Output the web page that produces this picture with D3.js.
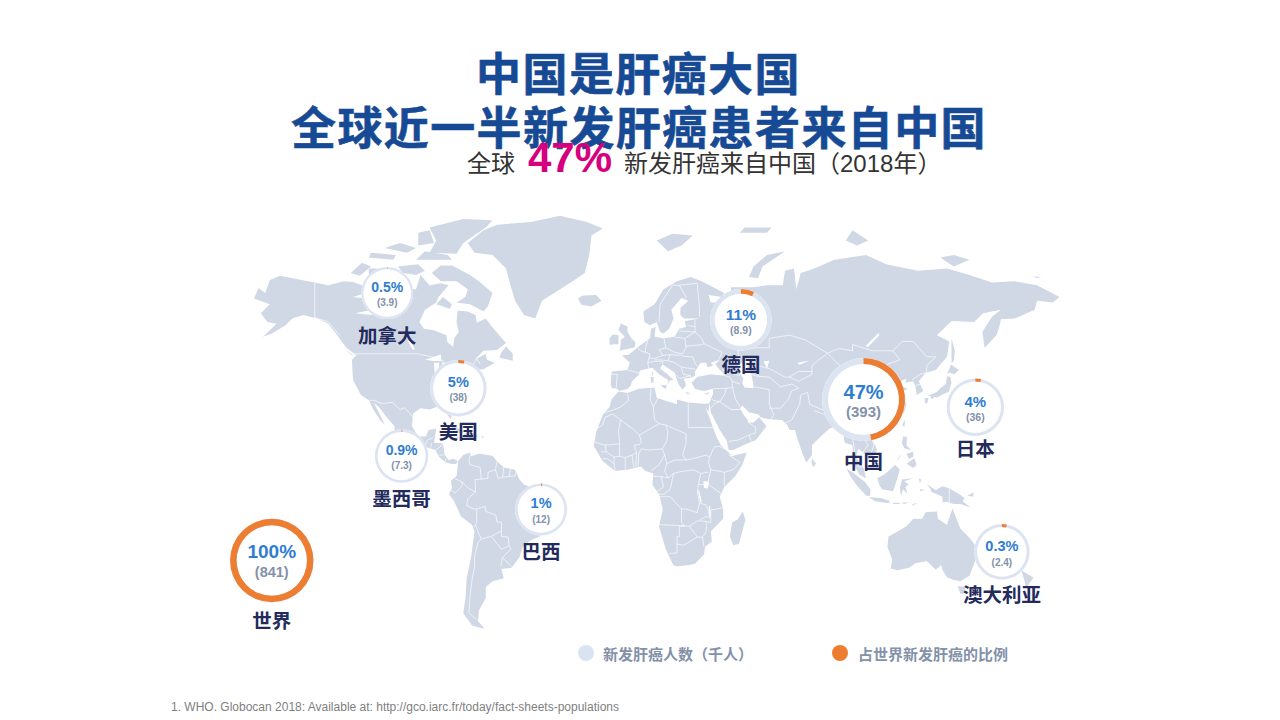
<!DOCTYPE html>
<html lang="zh"><head><meta charset="utf-8">
<script src="https://cdn.jsdelivr.net/npm/d3@7/dist/d3.min.js"></script>
<style>html,body{margin:0;padding:0;background:#fff}svg{display:block}</style></head>
<body><svg id="c" width="1280" height="720" viewBox="0 0 1280 720"></svg>
<script>
// ---------- chart data ----------
const titleLines = ["中国是肝癌大国", "全球近一半新发肝癌患者来自中国"];
const countries = ["加拿大","美国","墨西哥","巴西","世界","德国","中国","日本","澳大利亚"];
const shareLabels = ["0.5%","5%","0.9%","1%","100%","11%","47%","4%","0.3%"];
const casesLabels = ["(3.9)","(38)","(7.3)","(12)","(841)","(8.9)","(393)","(36)","(2.4)"];
const arcDrawn = [0.002,0.035,0.004,0.006,1,0.07,0.47,0.032,0.028];
const legendLabels = ["新发肝癌人数（千人）","占世界新发肝癌的比例"];
const footnote = "1. WHO. Globocan 2018: Available at: http://gco.iarc.fr/today/fact-sheets-populations";

// bubble anchors in map coordinates [lon, lat]
const anchors = [[-108.8,67],[-77.2,37],[-102.4,10.6],[-40.4,-11.2],[-160.1,-31.3],[48.4,59.6],[102.9,32.8],[152.6,29.9],[164.4,-28]];
const radii = [26,28.3,26.7,26,41.7,30.8,41.5,28.7,27.8];
const ringW = [2.2,3,2.6,2.6,6.5,4.6,6,3,3];
const labelDy = [42,43,42,42,60,44,61,41,42];
const shareFs = [14,14.5,14,14.5,19,15.5,20,15,14.5];
const casesFs = [10,10,10,10,14.5,10.5,15,10.5,10];
const shareDy = [-6.5,-6,-6,-6,-9,-5.5,-8,-5.5,-6];
const casesDy = [9,9.5,9.5,10,12,10.5,12,10,11];

// ---------- geography (lon, lat outlines) ----------
const land = [
 // North America
 [[-168,65.6],[-166,68.3],[-163,67],[-161,70.3],[-156.5,71.3],[-148,70.4],[-141,69.7],[-135,69],[-128,70],[-124,69.8],[-115,68],[-108,68],[-100,68],[-96,68],[-94,71.5],[-90,69],[-85,69.5],[-81.5,69],[-86,66],[-87,64.5],[-92,62.5],[-94.5,59],[-92.5,57],[-88,56.5],[-82.5,55],[-82,52.8],[-79.5,51.3],[-79,54],[-77,56],[-78,59],[-77.5,62.3],[-73,62],[-69.5,61],[-69,58.8],[-65,60],[-61.5,57],[-56,52.5],[-60,50.3],[-66,50],[-70,47],[-65,49],[-64.5,47],[-61,46],[-66,43.8],[-70,43.5],[-70.5,42],[-74,40.5],[-75.5,37.5],[-76,35],[-81,32],[-80.2,27],[-80.5,25.2],[-82,27],[-83.5,29.5],[-86,30.3],[-90,29],[-94,29.5],[-97.3,27.5],[-97.8,22.5],[-95,18.5],[-91.5,18.5],[-90.5,21],[-87,21.5],[-88,16],[-84,15.8],[-83.3,11],[-81.5,9],[-79.5,9.5],[-77.3,8.6],[-78,7.5],[-80,7.3],[-83,8.2],[-85.5,10],[-87.5,13],[-91,14],[-94.5,16.2],[-100,17],[-105.5,20],[-105.5,22.5],[-109,26],[-112.5,30],[-114.7,31.5],[-112,27],[-109.8,23],[-112,25],[-115,29],[-117,32.5],[-120.5,34.5],[-124,40],[-124.5,47],[-122.5,48.5],[-127,51],[-131,55],[-135,58.5],[-140,60],[-146,61],[-151,60],[-154,58],[-160,55.5],[-164,54.5],[-158,58.5],[-162,59],[-165,61.5],[-161,64],[-168,65.6]],
 // Arctic Canada
 [[-80,73.7],[-72,71.5],[-68,70],[-62,67],[-64,63.5],[-66,62],[-72,64],[-78,64.5],[-74,66],[-73,68],[-78,70],[-85,70],[-89,72],[-85,73.7]],
 [[-117,73],[-105,73],[-101,69.5],[-110,68.7],[-117,69.5]],
 [[-125,72],[-120,74.3],[-116,73.5],[-121,71.3]],
 [[-90,76.5],[-78,76.3],[-75,78.5],[-65,81.5],[-62,82.8],[-75,83],[-90,81.5],[-87,79]],
 [[-96,75],[-80,75],[-82,76],[-92,76.8]],
 [[-102,72],[-96,71.5],[-92,72.5],[-95,74],[-104,73.5]],
 [[-117,75.5],[-106,75],[-105,76],[-116,76.5]],
 [[-95,78],[-88,78.5],[-90,81],[-95,80.5]],
 [[-87,64],[-81,62.8],[-80,64],[-84,66]],
 [[-110,77.5],[-100,76.5],[-96,77.5],[-103,78.5]],
 [[-59,47.7],[-53,46.7],[-53,49],[-56,51.5],[-58,49.5]],
 [[-128,50.7],[-123.5,48.4],[-125,48.8]],
 // Caribbean
 [[-85,22],[-80,23],[-74.2,20.2],[-77.5,19.9],[-78.5,21.5],[-82,22.5]],
 [[-74.4,19.8],[-70,19.8],[-68.4,18.6],[-71.5,17.8],[-74.4,18.4]],
 [[-78.3,18.4],[-76.3,18.2],[-77.3,17.8]],
 [[-67.2,18.5],[-65.6,18.4],[-66.5,17.9]],
 // Greenland, Iceland
 [[-73,78.5],[-66,81],[-60,82],[-45,82.5],[-32,83.6],[-20,82.5],[-13,81.3],[-18,80],[-19,76],[-21,72],[-25,70.5],[-32,68],[-40,65],[-43,60],[-48,61],[-52,65],[-54,69],[-56,73],[-62,76],[-70,76.5]],
 [[-24,65.5],[-22,66.4],[-16,66.5],[-13.5,65],[-18,63.4],[-22.5,63.9]],
 // South America
 [[-77.3,8.6],[-75,11],[-72,12],[-71.5,10.5],[-68,11.5],[-62,10.7],[-60,8.5],[-57,6],[-52,5],[-50,1],[-48,-1],[-44,-2.5],[-40,-3],[-35.5,-5.5],[-35,-9],[-39,-13],[-39,-18],[-41,-22],[-45,-23.5],[-48.5,-26],[-50,-30],[-53.5,-34],[-58,-34.5],[-57,-38],[-62,-39],[-65,-41],[-65,-45],[-68,-49],[-68.5,-52.5],[-65.5,-55],[-71,-54],[-75,-50],[-74,-45],[-73.5,-38],[-71.5,-30],[-70,-20],[-71,-17.5],[-76,-14],[-79,-8],[-81.3,-5],[-80,-2.5],[-80.5,0.5],[-78,2.5],[-77.5,6]],
 // Africa
 [[-6,35.8],[-2,35.2],[3,36.8],[10,37.3],[11,33.5],[15,32.3],[20,31],[20,32.8],[25,31.7],[32,31.2],[34.3,31.3],[34,28],[32.5,30],[34,27],[36,22],[37.5,18.5],[39.5,15],[43,12],[44,10.5],[51,12],[49,7],[46,2.5],[41,-2],[39,-6],[40.5,-11],[40.5,-15],[35,-20],[35.5,-24],[32.5,-26],[32,-29],[28,-32.5],[25.5,-33],[20,-33.6],[18.3,-33],[15,-27],[12,-18],[13.7,-11],[12,-5],[9,-1],[9.5,3.5],[6,4.5],[4,6.3],[-2,5],[-7.5,4.5],[-13,8.5],[-17,14.7],[-16,20],[-13,27],[-10,30],[-9,33]],
 [[49.3,-12],[50.4,-15.5],[47.5,-25],[45,-25.5],[43.5,-22],[44.5,-16.5],[47,-15.2]],
 // Eurasia
 [[-9,37],[-9.5,38.7],[-9,43],[-2,43.5],[-1,46],[-4.5,48.5],[-1.5,48.7],[1.5,50.5],[4,52],[8,54],[8.5,57],[10.5,57.5],[10,54.5],[14,54],[19,54.5],[21,57],[24,57.5],[23.5,59.3],[30,60],[23,60],[21.5,61],[21.5,63],[25,65],[22,65.7],[17.5,62.5],[18.5,60],[16.5,57],[14,55.5],[12.5,56],[11,59],[8,58],[5.5,59],[5,62],[10,64],[14,68],[20,70],[26,71],[31,70],[41,67],[40,66],[34,66.5],[35,64.5],[40,64.5],[44,66],[44,68.5],[54,68.5],[60,69],[67,69],[68,72.5],[72,73],[73,68],[75,72],[81,73],[90,75],[104,76],[113,74],[127,72.5],[140,73],[150,71.5],[160,69.7],[170,70],[180,69],[190,66],[187,64.5],[180,65],[179,62.5],[170,60],[164,59.8],[163,57],[162,55],[158,52],[156.7,51],[155.7,56],[160,60.5],[164,62.5],[156,61.5],[152,59],[142,59.3],[135.5,55],[141,53],[140,48],[135,43.5],[130.5,42.5],[127.5,39.5],[129.5,36],[126.5,34.5],[126,37.5],[125,39.5],[121.5,39],[122,40.5],[118,39],[119,37.5],[122.5,37],[119.5,35],[122,31],[121,28],[118,24.5],[113.5,22.3],[110,21],[108,21.5],[106,19],[109,13],[107,10.5],[105,8.7],[105,10.5],[100.5,13.5],[99.5,10],[103,5.5],[104,1.5],[101,3],[98.3,8],[98,15],[94.5,16],[94,19],[91.5,22.5],[88,21.7],[85,19.5],[80,15],[80,11],[77.5,8],[76,11],[73,19],[72.5,21],[70,21],[69,23],[66.7,25],[61,25.3],[57,26],[56.5,27],[52,28],[49,30.5],[48,29.5],[50,26.5],[51.5,25],[51.5,24],[54,24],[56.5,26],[59.8,22.5],[55,17],[52,16],[45,13],[43,13],[42,17],[39,21],[35,28],[34.8,29.5],[34.3,31.3],[36,35],[36,36.8],[32,36],[28,36.7],[26.5,39],[29,41],[35,42],[41.5,41.5],[38,44.5],[37,45.5],[39,47],[35,46],[36,45],[33.5,44.5],[33,46],[30.5,46],[28,43],[28,41.5],[26,40.7],[23,40.5],[24,38],[22.5,36.5],[21,38],[19.5,41],[19,42.5],[13.5,45.5],[12.5,44],[16,41.8],[18.5,40],[16.5,39.7],[15.8,38],[16,40],[12,42],[9,44.3],[3.5,43.3],[3,41.8],[0,39.5],[-0.5,38],[-2,36.7],[-5.5,36],[-7,37]],
 // Europe islands
 [[-5.5,50],[1.3,51.2],[1.5,52.8],[-0.3,54],[-2,56],[-2,57.6],[-5,58.6],[-6,56.5],[-3.2,54.5],[-5,53.5],[-5,51.7]],
 [[-10,52],[-6,52.2],[-6,55],[-8.5,55.2],[-10,54]],
 [[12.5,38],[15.5,38.2],[15,36.7]],[[8.3,41],[9.7,41],[9.5,39],[8.5,39]],[[8.7,42.5],[9.5,43],[9.3,41.5]],[[23.5,35.5],[26.3,35.2],[24.5,34.9]],[[32.3,35],[34.5,35.6],[33.5,34.6]],
 [[11,79],[16,76.8],[22,78],[27,80],[18,80.3]],
 [[52,71],[56,70.7],[58,73.5],[68,76.8],[60,76],[54,73.5]],
 [[95,79],[100,78],[105,79],[98,81]],[[48,80.5],[60,80.5],[62,81.5],[50,81.5]],
 [[137,75.5],[143,73.5],[150,75],[143,76]],[[178,71.2],[182,71],[180,70.8]],
 // East Asia islands
 [[142,54],[143.5,50],[143,46.5],[142,46],[142,50]],
 [[140,42],[141.8,45.4],[145.3,43.5],[143.3,42],[141,42.5]],
 [[130.9,34],[135.5,35.6],[137,37],[139.5,38.5],[140,41.3],[141.5,41],[142,39],[140.8,35.7],[138,34.7],[135.5,33.6],[132.5,34.2]],
 [[130,33.3],[131.8,33.5],[131.2,31.3],[130.2,31.4]],[[132.5,34],[134.5,34.2],[134,33.3],[133,33]],
 [[121.5,25.2],[121,22],[120.1,23.3]],[[108.7,19.3],[110.5,20],[110.5,18.7],[109,18.3]],
 [[80,9.7],[81.8,7.5],[80.5,6],[79.8,8]],
 // South-East Asia, Oceania
 [[120.5,18.5],[122.2,18.3],[122,15],[124,13],[121,13.7],[120,16]],
 [[122,7.5],[125.5,9.7],[126.5,7],[125,5.7]],[[122,11.5],[125,12.3],[125,10.2],[123,9.5]],[[117.2,8.4],[119.5,11.2],[119.2,10.2]],
 [[109,1.5],[111.5,2.8],[114,4.5],[117,7],[119,5],[117.8,1],[116,-3.8],[111,-3],[110,-1.3]],
 [[95.3,5.5],[98,4],[103.5,0],[106,-3],[105.8,-5.8],[104,-5.5],[100,-1.5],[97,2.5]],
 [[105.3,-6.2],[110.5,-6.5],[114.5,-7.7],[114.3,-8.7],[108,-7.9]],
 [[119.5,-5.5],[119,-2.5],[120,1],[125,1.5],[121,0.3],[123,-1],[121.5,-2],[122.5,-5],[120.5,-3]],
 [[131,-0.8],[135,-3.3],[138,-1.7],[141,-2.6],[145.5,-5],[147.8,-6.5],[147,-8],[150.7,-10.5],[146,-9],[143,-9],[140,-8.2],[138,-8.3],[138,-6],[133,-4],[132.5,-2.7]],
 [[124,-10],[127,-8.5],[125,-9]],[[116,-8.5],[119,-8.5],[119,-9],[116,-9]],[[119.5,-8.5],[123,-8.3],[121,-9]],[[128,-3],[130.5,-3.3],[128,-3.7]],[[127.5,1.5],[128.5,1],[128,-0.8]],[[149,-5.5],[152,-4.2],[151.5,-6]],
 // Australia, New Zealand
 [[114,-22],[117,-20.5],[122,-18],[125,-15],[129,-15],[130.5,-12.3],[135.5,-12],[136,-15],[140,-17.5],[141.5,-13],[142.5,-10.8],[144,-14.5],[146,-19],[150,-22.5],[153,-26],[153.2,-30],[150,-37],[146,-39],[143,-38.5],[140,-37.5],[138,-35],[137.5,-33],[135,-34.8],[131,-31.5],[126,-32.3],[123,-34],[118,-35],[115,-34.3],[115.7,-31],[113.5,-26]],
 [[144.7,-40.8],[148.3,-40.9],[147.8,-43.2],[146,-43.5]],
 [[173,-35],[178.5,-37.7],[175,-41.5],[174.5,-39]]
];
const lakes = [
 [[47,45],[51,47],[53,46],[51,44.5],[53,42],[53.8,39],[54,37],[50,37.3],[49,39],[49.5,40.5],[47.5,43]],
 [[58.5,46.5],[61,46.7],[60,44]],
 [[103.7,51.5],[109.5,55.7],[110,55],[105,51.3]],
 [[73.5,46],[79,46.8],[74.5,45.3]],
 [[-92,47],[-85,48.8],[-84.7,46.6],[-88,46.6]],[[-88,46],[-85.5,46],[-86.5,42],[-87.7,42]],[[-84.5,46],[-80,46],[-81,44.8],[-83.5,43.2]],[[-83.3,41.7],[-79,42.8],[-81,42.8]],[[-79.7,43.3],[-76.3,44],[-76.3,43.4]],
 [[-97.5,50.4],[-96.5,50.4],[-98.8,53.8],[-99.5,53]],[[-123,61.5],[-116,61],[-112,62.7],[-117,62.3]],[[-124,66],[-118,67],[-117.5,65.5]],
 [[31.7,0.3],[34,0.2],[33.8,-2.7],[32,-2.5]],[[29.3,-3.5],[29.8,-3.4],[31,-8.3],[30.3,-8.3]],[[34.2,-9.8],[34.7,-10],[35,-14],[34.4,-13.8]]
];
const borders = [
 [[-141,69.7],[-141,60.3],[-135,59],[-130,55]],
 [[-123,49],[-95,49],[-89,48],[-84,46.5],[-82.5,45],[-82.5,42.5],[-79,43],[-76,44],[-74.7,45],[-71,45],[-69,47.3],[-67.5,45.5]],
 [[-117,32.5],[-114.7,32.5],[-111,31.3],[-106.5,31.7],[-103,29],[-101,29.7],[-97.2,25.9]],
 [[-92,14.5],[-91,17],[-89,17.8],[-88.3,18.4]],[[-89,15.9],[-89.5,14]],[[-87.5,13],[-85,14.5],[-84,15.8]],[[-85.5,11],[-83.7,11]],[[-83,8.5],[-82.8,9.6]],[[-77.9,7.3],[-77.3,8.6]],
 [[-71.5,12],[-72.5,9],[-72,7],[-67.5,6],[-67,1.2]],[[-67,1.2],[-69.8,1],[-69.5,-4.2]],[[-69.5,-4.2],[-73,-2.3],[-75.5,0],[-78.8,1.4]],[[-75.5,0],[-75.5,-1.5],[-78.5,-4.5],[-80.3,-3.4]],
 [[-69.9,-4.2],[-73,-7],[-73.5,-9.5],[-70.5,-11],[-69,-11]],[[-69,-11],[-65.3,-10],[-65,-12],[-60.5,-13.5],[-60,-16.3],[-58,-16.3],[-58,-19.8]],[[-69,-11],[-69,-16],[-69.5,-17.5]],
 [[-70.3,-18.3],[-69.5,-17.5],[-68.5,-20],[-67,-23],[-68.5,-24.5],[-70,-30],[-70,-34],[-71,-38],[-72,-44],[-72.5,-50],[-69,-52]],[[-67,-23],[-62.5,-22],[-58,-19.8]],[[-62.5,-22],[-58,-27],[-54.6,-25.6],[-55,-22.3],[-58,-22],[-58,-19.8]],
 [[-54.6,-25.6],[-53.8,-27],[-57.6,-30.2]],[[-57.6,-30.2],[-58.3,-33.5]],[[-57.6,-30.2],[-53.5,-33.7]],[[-67,1.2],[-64,1.5],[-64,4],[-60.7,5]],[[-60.7,5],[-60,8.5]],[[-60.7,5],[-59.5,1.5],[-57,2],[-54.5,2.3],[-52,2.5],[-51.5,4.4]],[[-57,6],[-57.5,2]],[[-54,5.8],[-54.5,2.3]],
 [[-2,35],[-1.5,32.5],[-5,30],[-8.7,28.7],[-13,27.7]],[[-8.7,27.3],[-12,26],[-13,23],[-17,21]],[[-8.7,27.3],[-5,25],[-6,21],[-5.5,15.5],[-12,15],[-16.5,16.2]],[[-5,25],[1,21],[3.3,19],[4.2,16]],[[4.2,16],[3.5,15.3],[1,15]],[[-5.5,15.5],[-5.5,10.5],[-8,10.2],[-11.4,12.3],[-12,15]],[[1,15],[2,12],[0,11],[-3,10],[-5.5,10.5]],
 [[3.3,19],[12,23.5],[15,23],[16,20.5],[15.5,16.8],[13.5,13.5]],[[13.5,13.5],[8,13],[4,13.5],[3,11.5]],[[3,11.5],[2.7,6.3]],[[13.5,13.5],[14.5,11],[12,7],[8.5,4.5]],[[0,11],[0.8,6]],[[2,12],[1.7,6.2]],[[-3,10],[-3,5]],[[-8,10.2],[-8,7.5],[-7.5,4.5]],[[-11.4,12.3],[-13.7,12.3]],[[-8,7.5],[-11,9.5],[-13,9.5]],
 [[8.5,36.9],[8,33],[9.5,30],[10,25],[12,23.5]],[[11.5,33.2],[9.5,30]],[[25,31.6],[25,22]],[[25,22],[36.8,22]],[[15,23],[24,19.5],[24,15.5],[22.5,11],[24,9],[19,9],[15.5,7.5],[14.5,11]],[[24,9],[27,9.5],[33,11],[34.5,10]],[[36.5,14.3],[34.5,10],[34,8],[35,5],[41,4],[41,-1.5]],[[36.5,14.3],[39,14.5],[43,12.5]],[[43,11],[48,8],[45,5],[41,4]],[[27.5,5],[22,4.3],[18.5,3.5]],[[35,5],[34,1],[34,-1],[39.5,-4.7]],[[27.5,5],[30.5,3.5],[29.5,-1],[29,-4],[30,-8.5],[29,-12.5],[24,-11],[22,-11]],[[30.5,3.5],[34,4]],[[18.5,3.5],[17,-3],[14,-5],[12,-5]],[[9.5,2.3],[13,2.2],[16,1.7],[18.5,3.5]],[[13,2.2],[14,-2],[11,-4]],[[15.5,7.5],[14.5,4.5],[16,1.7]],[[12.2,-6],[17,-6],[19,-8],[22,-11]],[[22,-11],[22,-13],[22,-16.5],[23.5,-17.8]],[[11.8,-17.3],[23.5,-17.8]],[[23.5,-17.8],[21,-18],[21,-22],[20,-22],[20,-28.4],[16.5,-28.6]],[[20,-25],[23,-25.5],[29,-22.2]],[[23.5,-17.8],[25.5,-18],[29,-15.8],[33,-16],[33,-20],[31.3,-22.4],[29,-22.2]],[[25.5,-18],[29,-22.2]],[[30,-8.5],[33,-9.5],[34,-11.5],[34.5,-14.5],[33,-14],[30,-15.5]],[[40.5,-10.5],[35,-11.5],[35,-16.5],[33,-16]],[[29.5,-1],[34,-1]],[[31.3,-22.4],[32,-26]],
 [[-1.8,43.4],[3,42.5]],[[2.5,51],[4,50],[6,49.5],[8,49],[7.5,47.5],[7,46],[7.5,43.8]],[[-9,42],[-6.5,42],[-7,37.2]],[[14.2,54],[15,51],[12,50.3],[13.7,48.5],[10,47.5],[7.5,47.6]],[[7,53.4],[6,51],[6,49.5]],[[15,51],[19,49.5],[22.5,49],[24,51],[23.5,54],[19,54.4]],[[13.7,48.5],[17,48.7],[22.5,48.5]],[[10,47],[12,47],[16,46.7],[17,48.7]],[[7,46],[10,46.5],[13.7,46.5],[13.6,45.6]],[[16,46.7],[19,46],[22,44.5],[22.7,42],[26,41.5],[26,40.7]],[[19.4,42],[21,40.5],[26,41.5]],[[22.5,48.2],[27,48],[28.2,45.5],[29,45]],[[22,44.5],[28,43.8]],[[24,51.5],[31,52],[32,52.3],[40,49.5],[38.5,47]],[[23.5,54],[28,56],[31,54],[32,52.3]],[[21,56.3],[28,56]],[[24.5,58],[28,57.6]],[[28,56],[28,59.5]],[[12,59],[12.5,64],[18,69],[21,69]],[[21,69],[24,66],[23.5,65.8]],[[21,69],[29,69.5],[30,63],[30,60.5]],
 [[48,46.5],[47,50],[55,51],[61,51],[61,54],[70,55],[77,53.5],[87,49.2]],[[87,49.2],[92,50.8],[98,50],[98,52],[107,50],[116,50],[120,53],[125,53],[131,48],[135,48],[131,45],[131,43],[130.5,42.5]],[[87,49.2],[91,46],[96,42.7],[105,41.7],[111,43.5],[112,45],[119,47],[116,50]],[[87,49.2],[83,47],[80,45],[80,42]],[[80,42],[74,39.5],[70,41],[74,43],[80,43]],[[56,45],[56,41.3],[61,41],[66,37.5],[71,38.5],[74,37]],[[53,42],[56,41.3]],[[56,45],[61,44],[68,41],[70,41]],[[44.5,39.5],[48,38.5]],[[54,37.5],[61,36.5],[61,31],[63,27],[61.5,25]],[[44.5,39.5],[45,36],[46,33],[48,30]],[[36,36.8],[42,37],[44.8,37.2]],[[41.5,41.5],[43.5,41],[44.5,39.5]],[[42,37],[41,34.5],[39,32],[36,32.5],[35.5,33]],[[35,29.5],[37,31.5],[39,32],[44,29],[48,29]],[[43,16.5],[47,17],[52,19],[55,20],[55,22],[52,24]],[[52,19],[53,16.5]],[[61,29.5],[66,29.5],[69.5,33],[71,36],[74,37]],[[68,23.7],[71,25],[74.5,31],[75,34.5],[78,35.5]],[[78,35.5],[79,31],[81,30.2],[88,27.8],[92,27.8],[97,28.2],[98.5,25],[97.7,24],[101,21.5]],[[81,28.5],[88,26.3]],[[88,26],[92,25],[92.5,21]],[[97,28],[94,24],[92.5,21]],[[101,21.5],[98,18],[99,12]],[[101,21.5],[102,22.4],[106,19.5],[107.5,15],[106,11]],[[102,22.4],[108,21.5]],[[101,20],[105,15],[102.5,12]],[[100,6.5],[102,6]],[[124.5,40],[128,42],[130.5,42.5]],[[126,38],[128.5,38.5]],[[40,43.5],[48,41.5]],[[141,-2.6],[141,-9]]
];

// ---------- scales ----------
const xLon = d3.scaleLinear().domain([-180,180]).range([227,1037]);
const yT = d3.scaleLinear().domain([0,1]).range([482,202]);
const latT = lat => { const t = Math.tan(lat*Math.PI/360); return t + 0.1*Math.pow(t,5); };
const project = ([lon,lat]) => [xLon(lon), yT(latT(lat))];
const geoPath = d3.geoPath(d3.geoTransform({ point(x,y){ const p = project([x,y]); this.stream.point(p[0],p[1]); } }));
const poly = rings => ({type:"MultiPolygon",coordinates:rings.map(r=>[r.concat([r[0]])])});
const lines = ls => ({type:"MultiLineString",coordinates:ls});
const arcScale = d3.scaleLinear().domain([0,1]).range([0,2*Math.PI]);

const svg = d3.select("#c");
const CJK = '"Liberation Sans","Noto Sans CJK SC",sans-serif';
const LAND="#d0d8e6", RING="#dce4f1", ORANGE="#ed7d31", BLUE="#2f7dd1", GREY="#8391a9", NAVY="#232a5c";

// ---------- title ----------
svg.selectAll("text.t").data(titleLines).join("text").attr("class","t")
  .attr("x",(d,i)=>[638.5,639][i]).attr("y",(d,i)=>[90.5,144.5][i])
  .attr("text-anchor","middle").attr("font-family",'"Noto Sans CJK SC"').attr("font-weight",700)
  .attr("font-size",45).attr("letter-spacing",1.4).attr("fill","#174a94").attr("stroke","#174a94").attr("stroke-width",0.6).text(d=>d);

// ---------- map ----------
const map = svg.append("g");
map.append("path").attr("d",geoPath(poly(land))).attr("fill",LAND);
map.append("path").attr("d",geoPath(poly(lakes))).attr("fill","#fff");
map.append("path").attr("d",geoPath(lines(borders))).attr("fill","none").attr("stroke","#fff").attr("stroke-width",0.65).attr("stroke-linejoin","round");

// ---------- subtitle ----------
const sub = svg.append("g").attr("font-family",CJK);
sub.append("text").attr("x",467).attr("y",172).attr("font-size",24).attr("fill","#333").text("全球");
sub.append("text").attr("x",528).attr("y",172).attr("font-size",42).attr("font-weight",700).attr("fill","#d6007f").text("47%");
sub.append("text").attr("x",624).attr("y",172).attr("font-size",24).attr("fill","#333").text("新发肝癌来自中国（2018年）");

// ---------- bubbles ----------
const arc = d3.arc();
const b = svg.selectAll("g.b").data(countries.map((c,i)=>i)).join("g").attr("class","b")
  .attr("transform",i=>`translate(${project(anchors[i])})`);
b.append("circle").attr("r",i=>radii[i]).attr("fill","#fff");
b.append("path").attr("fill",RING)
  .attr("d",i=>arc({innerRadius:radii[i]-ringW[i],outerRadius:radii[i],startAngle:0,endAngle:2*Math.PI}));
b.append("path").attr("fill",ORANGE)
  .attr("d",i=>arc({innerRadius:radii[i]-ringW[i],outerRadius:radii[i],startAngle:0,endAngle:arcScale(arcDrawn[i])}));
b.append("text").attr("text-anchor","middle").attr("dominant-baseline","central").attr("font-family",CJK)
  .attr("font-weight",700).attr("fill",BLUE).attr("y",i=>shareDy[i]).attr("font-size",i=>shareFs[i]).text(i=>shareLabels[i]);
b.append("text").attr("text-anchor","middle").attr("dominant-baseline","central").attr("font-family",CJK)
  .attr("font-weight",700).attr("fill",GREY).attr("y",i=>casesDy[i]).attr("font-size",i=>casesFs[i]).text(i=>casesLabels[i]);
b.append("text").attr("text-anchor","middle").attr("dominant-baseline","central").attr("font-family",'"Noto Sans CJK SC"')
  .attr("font-weight",700).attr("fill",NAVY).attr("y",i=>labelDy[i]-0.5).attr("font-size",19.5).text(i=>countries[i]);

// ---------- legend ----------
const leg = svg.selectAll("g.l").data(legendLabels).join("g").attr("class","l")
  .attr("transform",(d,i)=>`translate(${[586,840][i]},653)`);
leg.append("circle").attr("r",8).attr("fill",(d,i)=>["#dae4f1",ORANGE][i]);
leg.append("text").attr("x",(d,i)=>[17,18][i]).attr("dominant-baseline","central").attr("font-family",'"Noto Sans CJK SC"')
  .attr("font-weight",700).attr("font-size",15).attr("fill",GREY).text(d=>d);

// ---------- footnote ----------
svg.append("text").attr("x",171).attr("y",711).attr("font-family",'"Liberation Sans"').attr("font-size",12).attr("fill","#7f7f7f").text(footnote);
</script></body></html>
